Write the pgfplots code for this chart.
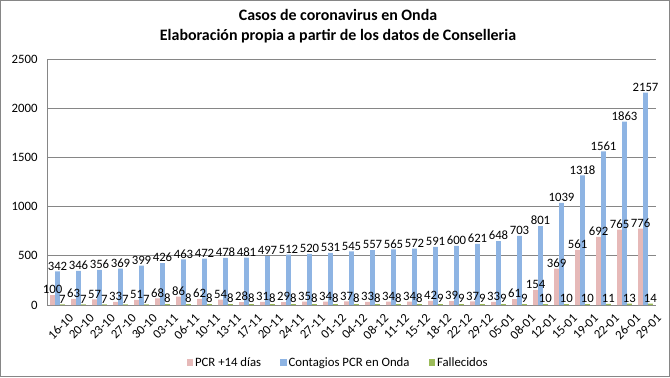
\documentclass[border=0pt]{standalone}
\usepackage{fontspec}
\setmainfont{Carlito}
\usepackage{pgfplots}
\usepackage{pgfplotstable}
\pgfplotsset{compat=1.18}
\definecolor{pinkc}{HTML}{E6B9B8}
\definecolor{bluec}{HTML}{8EB4E3}
\definecolor{greenc}{HTML}{9BBB59}
\definecolor{gridc}{HTML}{868686}
\pgfplotstableread{
idx pcr cont fall
0 100 342 7
1 63 346 7
2 57 356 7
3 33 369 7
4 51 399 7
5 68 426 8
6 86 463 8
7 62 472 8
8 54 478 8
9 28 481 8
10 31 497 8
11 29 512 8
12 35 520 8
13 34 531 8
14 37 545 8
15 33 557 8
16 34 565 8
17 34 572 8
18 42 591 9
19 39 600 9
20 37 621 9
21 33 648 9
22 61 703 9
23 154 801 10
24 369 1039 10
25 561 1318 10
26 692 1561 11
27 765 1863 13
28 776 2157 14
}\datatable
\begin{document}
\begin{tikzpicture}[x=1bp,y=1bp]
\draw[gridc, line width=0.8bp] (0.4,0.4) rectangle (669.6,376.6);
\node[font=\fontsize{16}{19}\selectfont\bfseries] at (338,362) {Casos de coronavirus en Onda};
\node[font=\fontsize{16}{19}\selectfont\bfseries] at (338,341) {Elaboración propia a partir de los datos de Conselleria};
\begin{axis}[
  at={(47bp,72bp)}, anchor=south west,
  scale only axis, width=609bp, height=246bp,
  xmin=-0.5, xmax=28.5, ymin=0, ymax=2500,
  ytick={0,500,...,2500},
  xtick={0,...,28},
  xticklabels={16-10,20-10,23-10,27-10,30-10,03-11,06-11,10-11,13-11,17-11,20-11,24-11,27-11,01-12,04-12,08-12,11-12,15-12,18-12,22-12,29-12,05-01,08-01,12-01,15-01,19-01,22-01,26-01,29-01},
  xticklabel style={rotate=45, anchor=north east, font=\fontsize{12.8}{15}\selectfont, inner sep=1pt, yshift=-12bp, xshift=3bp},
  yticklabel style={font=\fontsize{12.8}{15}\selectfont, xshift=-6bp},
  /pgf/number format/assume math mode=true,
  /pgf/number format/1000 sep={},
  major tick length=0pt,
  axis x line*=bottom, axis y line*=left,
  axis line style={gridc, line width=0.8bp, -},
  ymajorgrids, grid style={gridc, line width=0.8bp},
  ybar, bar width=0.235,
  nodes near coords,
  nodes near coords style={font=\fontsize{12.8}{15}\selectfont, text=black, inner sep=1pt},
  legend columns=3,
  legend style={at={(0.478,-0.236)}, anchor=center, draw=none, fill=none,
    font=\fontsize{12.8}{15}\selectfont,
    /tikz/every even column/.append style={column sep=17bp}},
  legend image code/.code={\fill[#1] (0bp,-2.5bp) rectangle (6.5bp,4.5bp);},
]
\addplot[draw=none, fill=pinkc, bar shift=-0.235] table[x=idx, y=pcr] {\datatable};
\addplot[draw=none, fill=bluec, bar shift=0] table[x=idx, y=cont] {\datatable};
\addplot[draw=none, fill=greenc, bar shift=0.235] table[x=idx, y=fall] {\datatable};
\legend{PCR +14 días, Contagios PCR en Onda, Fallecidos}
\end{axis}
\end{tikzpicture}
\end{document}
